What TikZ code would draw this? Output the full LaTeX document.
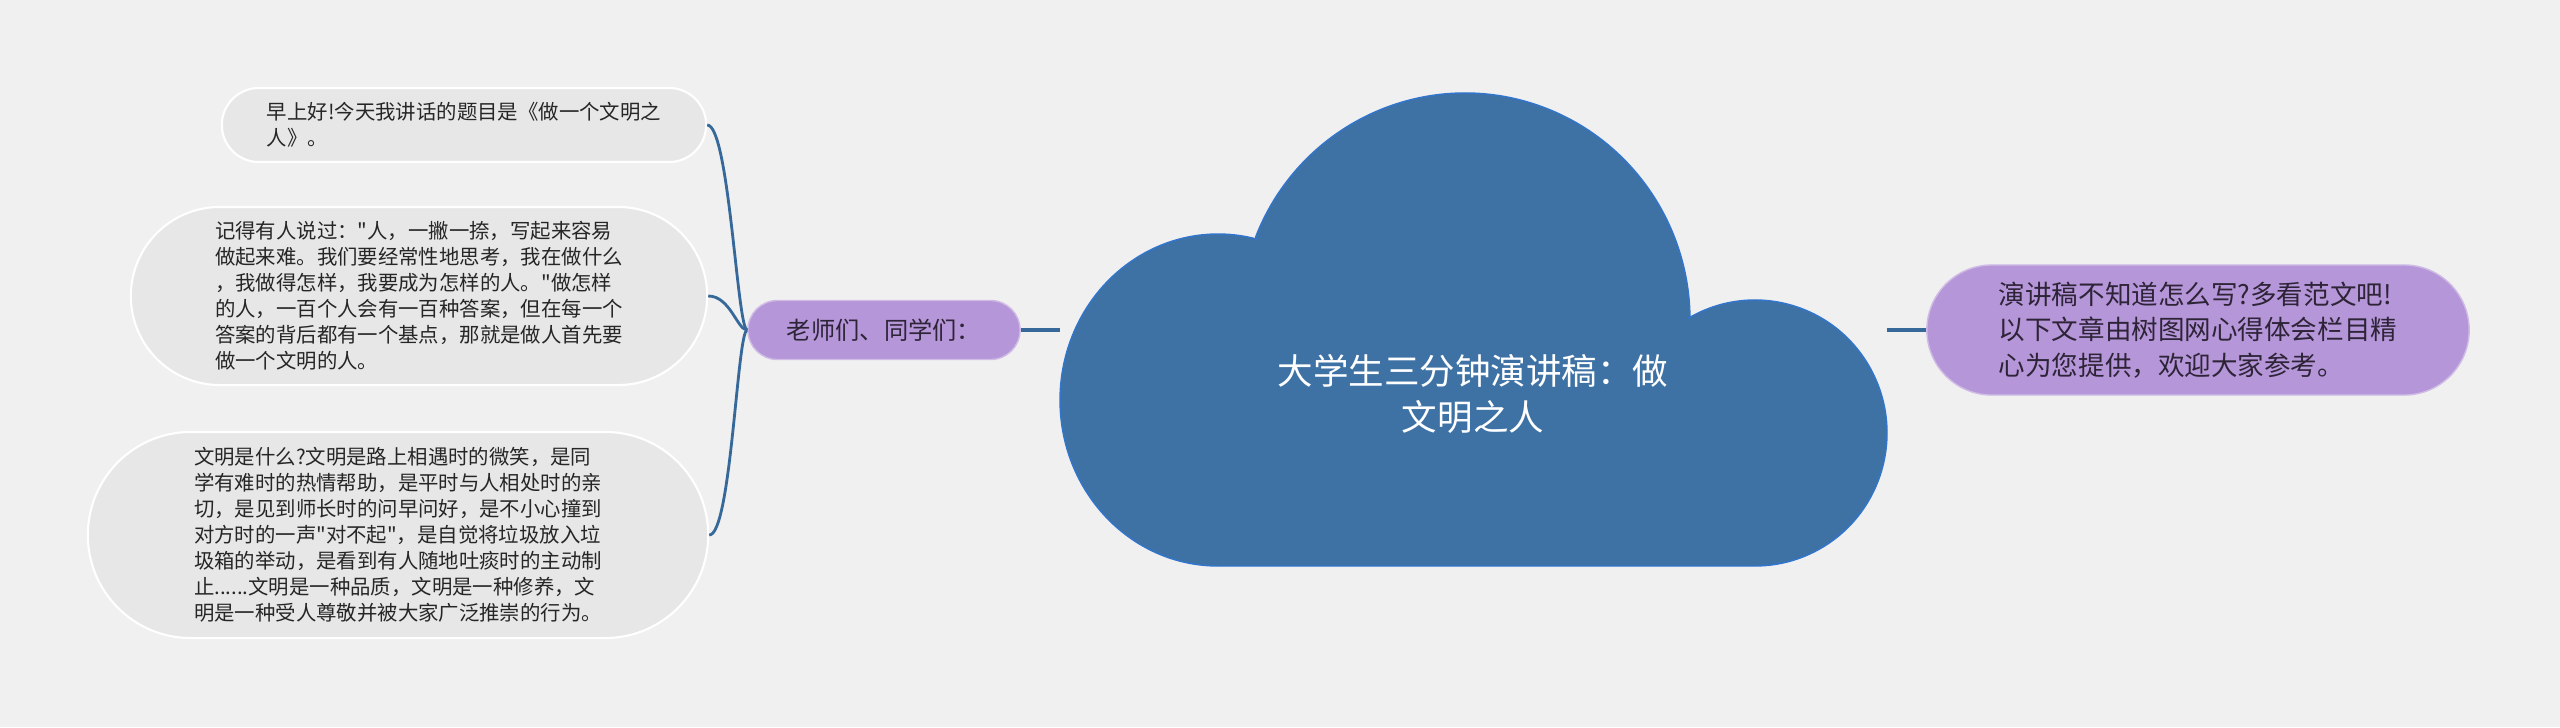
\documentclass[tikz,border=0pt]{standalone}
\usepackage{fontspec}
\setmainfont{Noto Sans CJK SC}[Ligatures=TeXOff]
\usetikzlibrary{shapes.misc,calc}
\definecolor{bgc}{HTML}{F0F0F0}
\definecolor{cloudblue}{HTML}{3E72A5}
\definecolor{cloudedge}{HTML}{3275CC}
\definecolor{linkblue}{HTML}{36689A}
\definecolor{lilac}{HTML}{B596D8}
\definecolor{boxgray}{HTML}{E7E7E7}
\definecolor{inkdark}{HTML}{262626}
\definecolor{inkdeep}{HTML}{2E2438}
\begin{document}
\begin{tikzpicture}[x=0.01cm,y=-0.01cm,
  leaf/.style={rounded rectangle,fill=boxgray,draw=white,line width=0.6pt,inner sep=0pt,
    align=left,text=inkdark,font=\fontsize{5.8}{7.4}\selectfont},
  sub/.style={rounded rectangle,fill=lilac,draw=white!35!lilac,line width=0.4pt,inner sep=0pt,text=inkdeep},
  link/.style={linkblue,line width=0.8pt},
  trunk/.style={linkblue,line width=1.4pt}]
\useasboundingbox (0,0) rectangle (2560,727);
\fill[bgc] (0,0) rectangle (2560,727);
% cloud
\fill[cloudblue,draw=cloudedge,line width=0.4pt] (1218,566)
  arc[start angle=90,end angle=284,x radius=158,y radius=166]
  -- ([shift={(201.5:225 and 227)}]1465,320)
  arc[start angle=201.5,end angle=359,x radius=225,y radius=227]
  -- ([shift={(240:132 and 133)}]1755,433)
  arc[start angle=240,end angle=450,x radius=132,y radius=133] -- cycle;
\node[text=white,align=center,font=\fontsize{10.1}{13.1}\selectfont] (title) at (1473,394)
  {大学生三分钟演讲稿：做\\文明之人};
\coordinate (cloudW) at (1060,330);
\coordinate (cloudE) at (1887,330);
% branches
\node[sub,minimum width=2.72cm,minimum height=0.59cm,font=\fontsize{6.9}{8.5}\selectfont] (teachers) at (884,330)
  {老师们、同学们：};
\node[sub,minimum width=5.42cm,minimum height=1.30cm,align=left,font=\fontsize{7.55}{10.1}\selectfont] (intro) at (2198,330)
  {演讲稿不知道怎么写?多看范文吧!\\
   以下文章由树图网心得体会栏目精\\
   心为您提供，欢迎大家参考。};
\draw[trunk] (teachers.east) -- (cloudW);
\draw[trunk] (cloudE) -- (intro.west);
% leaves
\node[leaf,minimum width=4.84cm,minimum height=0.74cm] (greet) at (464,125)
  {早上好!今天我讲话的题目是《做一个文明之\\
   人》。};
\node[leaf,minimum width=5.76cm,minimum height=1.78cm] (quote) at (419,296)
  {记得有人说过："人，一撇一捺，写起来容易\\
   做起来难。我们要经常性地思考，我在做什么\\
   ，我做得怎样，我要成为怎样的人。"做怎样\\
   的人，一百个人会有一百种答案，但在每一个\\
   答案的背后都有一个基点，那就是做人首先要\\
   做一个文明的人。};
\node[leaf,minimum width=6.20cm,minimum height=2.06cm] (civil) at (398,535)
  {文明是什么?文明是路上相遇时的微笑，是同\\
   学有难时的热情帮助，是平时与人相处时的亲\\
   切，是见到师长时的问早问好，是不小心撞到\\
   对方时的一声"对不起"，是自觉将垃圾放入垃\\
   圾箱的举动，是看到有人随地吐痰时的主动制\\
   止......文明是一种品质，文明是一种修养，文\\
   明是一种受人尊敬并被大家广泛推崇的行为。};
\foreach \leafname in {greet,quote,civil}
  \draw[link] (teachers.west) .. controls +(-10,0) and +(22,0) .. (\leafname.east);
\end{tikzpicture}
\end{document}
